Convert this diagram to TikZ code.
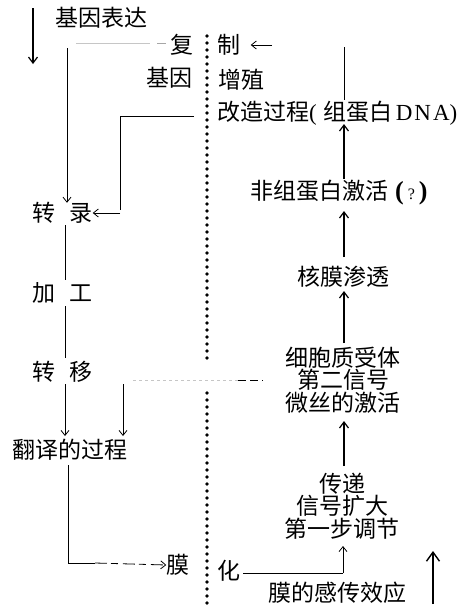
\documentclass[tikz,border=0pt]{standalone}
\usepackage{fontspec}
\setmainfont{Noto Sans CJK SC}
\newfontfamily\ser{Liberation Serif}
\usetikzlibrary{arrows.meta}
\begin{document}
\begin{tikzpicture}[x=1pt,y=-1pt,
  txt/.style={inner sep=0pt,font=\fontsize{23}{22.5}\selectfont},
  ml/.style={txt,align=center},
  thinln/.style={line width=0.8pt},
  arr/.style={line width=1.4pt,-{Straight Barb[length=6pt,width=9pt,line width=1.2pt]}},
  thinarr/.style={line width=0.8pt,-{Straight Barb[length=5pt,width=8pt,line width=0.8pt]}},
  bigarr/.style={line width=1.6pt,-{Straight Barb[length=9pt,width=13pt,line width=1.4pt]}},
  faint/.style={line width=0.9pt,gray!45},
  dots/.style={line width=3.6pt,line cap=round,dash pattern=on 0pt off 7pt}]
\useasboundingbox (0,0) rectangle (469,611);
% dotted membrane
\coordinate (d1) at (207,36);
\coordinate (d2) at (207,363);
\coordinate (d3) at (207,393);
\coordinate (d4) at (207,609);
\draw[dots] (d1) -- (d2);
\draw[dots] (d3) -- (d4);
% text nodes
\node[txt] (jybd) at (101,18) {基因表达};
\node[txt] (fu) at (182,45) {复};
\node[txt] (zhi) at (229,45) {制};
\node[txt] (jiyin) at (169,78) {基因};
\node[txt] (zengzhi) at (241,80) {增殖};
\node[txt,anchor=west] (gaizao) at (217,113) {改造过程{\ser(}\hspace{7pt}组蛋白\hspace{3pt}{\ser D\hspace{2pt}N\hspace{2pt}A)}};
\node[txt,anchor=west] (fzdb) at (250,193) {非组蛋白激活\hspace{7pt}{\ser\bfseries\fontsize{26}{26}\selectfont(\hspace{4pt}{\mdseries\fontsize{16}{16}\selectfont ?}\hspace{4pt})}};
\node[txt] (hmst) at (343,277) {核膜渗透};
\node[ml] (xbz) at (343,380) {细胞质受体\\第二信号\\微丝的激活};
\node[ml] (cd) at (342,506) {传递\\信号扩大\\第一步调节};
\node[txt] (mgc) at (337,593) {膜的感传效应};
\node[txt] (hua) at (229,571) {化};
\node[txt] (mo) at (178,565) {膜};
\node[txt] (fanyi) at (70,450) {翻译的过程};
\node[txt] (zh1) at (44,213) {转};
\node[txt] (lu) at (81,213) {录};
\node[txt] (jia) at (44,293) {加};
\node[txt] (gong) at (81,293) {工};
\node[txt] (zh2) at (44,372) {转};
\node[txt] (yi) at (81,372) {移};
% left big arrow
\coordinate (la1) at (33,8);
\coordinate (la2) at (33,64);
\draw[arr] (la1) -- (la2);
% faint line to fu
\coordinate (f1) at (76,43);
\coordinate (f2) at (150,43);
\coordinate (f3) at (157,43);
\coordinate (f4) at (166,43);
\draw[faint] (f1) -- (f2);
\draw[faint,gray!70] (f3) -- (f4);
% left vertical to transcription
\coordinate (v1) at (67,48);
\draw[thinarr] (v1) -- (lu.north west -| v1);
\coordinate (v2) at (65,225);
\coordinate (v3) at (65,280);
\coordinate (v4) at (65,306);
\coordinate (v5) at (65,358);
\draw[thinln] (v2) -- (v3);
\draw[thinln] (v4) -- (v5);
\coordinate (v6) at (65,384);
\coordinate (v7) at (65,436);
\draw[thinarr] (v6) -- (v7);
\coordinate (w1) at (123,384);
\coordinate (w2) at (123,436);
\draw[thinarr] (w1) -- (w2);
% from gaizao to lu
\coordinate (g1) at (194,116);
\coordinate (g2) at (120,116);
\coordinate (g3) at (120,210);
\draw[thinln] (g1) -- (g2) -- (g3);
\coordinate (g4) at (120,213);
\draw[thinarr] (g4) -- (lu.east);
% arrow to zhi
\coordinate (z1) at (272,45);
\draw[thinarr] (z1) -- ([xshift=10pt]zhi.east);
% right vertical top
\coordinate (r1) at (344,47);
\coordinate (r2) at (344,100);
\draw[thinln] (r1) -- (r2);
% right chain arrows
\coordinate (a1) at (344,179);
\coordinate (a2) at (344,124);
\draw[arr] (a1) -- (a2);
\coordinate (b1) at (344,257);
\coordinate (b2) at (344,211);
\draw[arr] (b1) -- (b2);
\coordinate (c1) at (344,343);
\coordinate (c2) at (344,291);
\draw[arr] (c1) -- (c2);
\coordinate (e1) at (344,466);
\coordinate (e2) at (344,421);
\draw[arr] (e1) -- (e2);
% hua to chuandi
\coordinate (h1) at (243,573);
\coordinate (h2) at (343,573);
\draw[thinln] (h1) -- (h2);
\coordinate (h3) at (343,546);
\draw[thinarr] (h2) -- (h3);
% fanyi to mo
\coordinate (m1) at (68,465);
\coordinate (m2) at (68,563);
\coordinate (m3) at (95,563);
\draw[thinln] (m1) -- (m2) -- (m3);
\draw[thinarr,dash pattern=on 12pt off 4pt on 7pt off 5pt] (m3) -- (mo.west);
% dashed horizontal at second signal
\coordinate (s1) at (133,380);
\coordinate (s2) at (238,380);
\coordinate (s3) at (263,380);
\draw[faint,dashed] (s1) -- (s2);
\draw[thinln,dash pattern=on 8pt off 4pt] (s2) -- (s3);
% big up arrow
\coordinate (u1) at (433,604);
\coordinate (u2) at (433,551);
\draw[bigarr] (u1) -- (u2);
\end{tikzpicture}
\end{document}
